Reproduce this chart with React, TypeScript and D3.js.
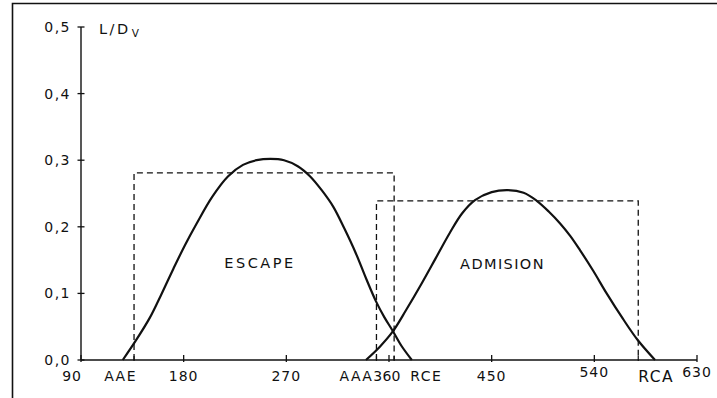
import React from "react";
import * as d3 from "d3";

// Crank angle ticks (degrees) and L/Dv ticks
const xTicks = [90, 180, 270, 360, 450, 540, 630];
const yTicks = [0, 0.1, 0.2, 0.3, 0.4, 0.5];

// Valve timing events (degrees)
const eventNames = ["AAE", "AAA", "RCE", "RCA"];
const eventAngles = [136.5, 349, 364.5, 578.5];

// Equivalent rectangular lift (dashed boxes)
const boxNames = ["ESCAPE", "ADMISION"];
const boxStart = [136.5, 349];
const boxEnd = [364.5, 578.5];
const boxHeight = [0.281, 0.239];

// Exhaust valve lift curve
const escapeAngles = [126.6, 138, 150.5, 160, 171, 181, 191.4, 205, 219, 232, 244, 256, 268, 280, 290.7, 301, 311.2, 321, 331, 340, 348.6, 356, 363.2, 371, 380];
const escapeLift = [0, 0.029, 0.064, 0.097, 0.137, 0.172, 0.205, 0.245, 0.276, 0.293, 0.3, 0.302, 0.3, 0.291, 0.276, 0.255, 0.23, 0.197, 0.16, 0.122, 0.088, 0.064, 0.044, 0.021, 0];

// Intake valve lift curve
const admisionAngles = [339.8, 352, 363.2, 375, 388, 401, 413, 424, 435.4, 450, 464.3, 478, 489.5, 500, 510, 519, 527.4, 539, 550.8, 565, 578, 593.2];
const admisionLift = [0, 0.02, 0.0425, 0.075, 0.113, 0.153, 0.19, 0.22, 0.24, 0.252, 0.255, 0.251, 0.239, 0.223, 0.205, 0.186, 0.165, 0.134, 0.1, 0.062, 0.03, 0];

// Label layout for the event names along the axis
const eventLabelLayout: Record<string, { dx: number; anchor: string; size: number; dy: number }> = {
  AAE: { dx: 3, anchor: "end", size: 14, dy: 0 },
  AAA: { dx: -3, anchor: "end", size: 14, dy: 0 },
  RCE: { dx: 16, anchor: "start", size: 14, dy: 0 },
  RCA: { dx: 0, anchor: "start", size: 15.5, dy: 1.5 },
};

const W = 717;
const H = 398;
const FONT = "'DejaVu Sans', 'Liberation Sans', sans-serif";
const INK = "#111";

export default function App() {
  const x = d3.scaleLinear().domain([90, 630]).range([81, 697]);
  const y = d3.scaleLinear().domain([0, 0.5]).range([360, 27]);

  const line = d3
    .line<[number, number]>()
    .x((d) => x(d[0]))
    .y((d) => y(d[1]))
    .curve(d3.curveCatmullRom.alpha(0.5));

  const escapePts = escapeAngles.map((a, i) => [a, escapeLift[i]] as [number, number]);
  const admisionPts = admisionAngles.map((a, i) => [a, admisionLift[i]] as [number, number]);

  const fmtY = (v: number) => v.toFixed(1).replace(".", ",");

  return (
    <svg
      width={W}
      height={H}
      style={{ position: "absolute", left: 0, top: 0, background: "#fff" }}
      fontFamily={FONT}
    >
      {/* frame */}
      <path d={`M12.5,${H} L12.5,3.5 L${W},3.5`} fill="none" stroke={INK} strokeWidth={1.6} />

      {/* y axis */}
      <line x1={x(90)} x2={x(90)} y1={y(0)} y2={y(0.5)} stroke={INK} strokeWidth={1.4} />
      {yTicks.map((t) => (
        <g key={t}>
          <line x1={x(90) - 3.5} x2={x(90) + 3.5} y1={y(t)} y2={y(t)} stroke={INK} strokeWidth={1.3} />
          <text
            x={71}
            y={y(t)}
            dy="0.36em"
            textAnchor="end"
            fontSize={14}
            letterSpacing={1.5}
            fill={INK}
          >
            {fmtY(t)}
          </text>
        </g>
      ))}
      <text x={99} y={33.5} fontSize={14.5} letterSpacing={2.5} fill={INK}>
        L/D
        <tspan fontSize={10.5} dy={3} dx={1}>
          V
        </tspan>
      </text>

      {/* x axis */}
      <line x1={x(90)} x2={x(630)} y1={y(0)} y2={y(0)} stroke={INK} strokeWidth={1.4} />
      {xTicks.map((t) => (
        <g key={t}>
          <line x1={x(t)} x2={x(t)} y1={y(0) - 5} y2={y(0) + 2} stroke={INK} strokeWidth={1.3} />
          <text
            x={t === 90 ? x(t) + 1 : x(t) - (t === 360 ? 2 : 0)}
            y={t === 540 || t === 630 ? 376.5 : 380.5}
            textAnchor={t === 90 ? "end" : "middle"}
            fontSize={14}
            letterSpacing={t === 360 ? 0.3 : 1}
            fill={INK}
          >
            {t}
          </text>
        </g>
      ))}
      {eventNames.map((n, i) => {
        const l = eventLabelLayout[n];
        return (
          <g key={n}>
            <line
              x1={x(eventAngles[i])}
              x2={x(eventAngles[i])}
              y1={y(0) - 4}
              y2={y(0) + 1}
              stroke={INK}
              strokeWidth={1.2}
            />
            <text
              x={x(eventAngles[i]) + l.dx}
              y={380.5 + l.dy}
              textAnchor={l.anchor}
              fontSize={l.size}
              letterSpacing={1.5}
              fill={INK}
            >
              {n}
            </text>
          </g>
        );
      })}

      {/* equivalent rectangles */}
      {boxNames.map((n, i) => (
        <path
          key={n}
          d={`M${x(boxStart[i])},${y(0)} L${x(boxStart[i])},${y(boxHeight[i])} L${x(boxEnd[i])},${y(boxHeight[i])} L${x(boxEnd[i])},${y(0)}`}
          fill="none"
          stroke={INK}
          strokeWidth={1.3}
          strokeDasharray="6 4"
        />
      ))}

      {/* lift curves */}
      <path d={line(escapePts) ?? ""} fill="none" stroke={INK} strokeWidth={2.2} />
      <path d={line(admisionPts) ?? ""} fill="none" stroke={INK} strokeWidth={2.2} />

      {/* region names */}
      <text x={260} y={268} textAnchor="middle" fontSize={14.5} letterSpacing={2.5} fill={INK}>
        ESCAPE
      </text>
      <text x={502.5} y={268.5} textAnchor="middle" fontSize={14.5} letterSpacing={1.4} fill={INK}>
        ADMISION
      </text>
    </svg>
  );
}
